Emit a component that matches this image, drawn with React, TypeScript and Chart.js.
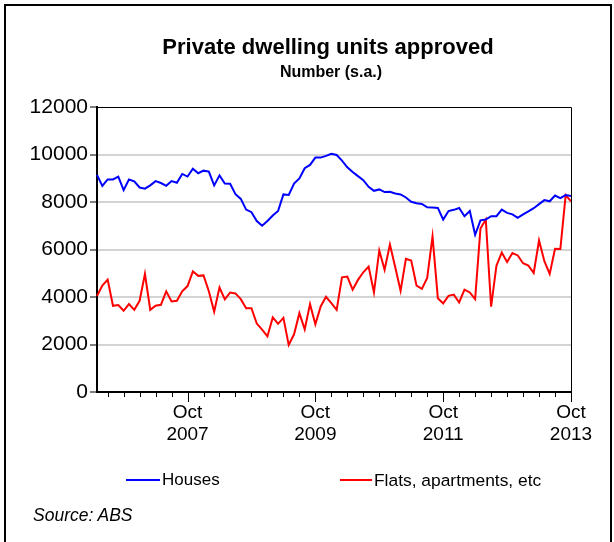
import React, { useEffect, useRef } from 'react';
import { Chart, registerables } from 'chart.js';

Chart.register(...registerables);

// Monthly series, May 2006 .. Oct 2013
const START_YEAR = 2006;
const START_MONTH = 4; // May (0-based)
const MONTHS = ['Jan', 'Feb', 'Mar', 'Apr', 'May', 'Jun', 'Jul', 'Aug', 'Sep', 'Oct', 'Nov', 'Dec'];

const houses = [
  9140, 8680, 8950, 8950, 9070, 8500, 8950, 8870, 8610, 8560,
  8700, 8880, 8800, 8680, 8880, 8810, 9180, 9070, 9400, 9210,
  9320, 9280, 8700, 9120, 8780, 8770, 8330, 8130, 7680, 7570,
  7200, 7000, 7200, 7430, 7620, 8320, 8300, 8780, 8990, 9420,
  9560, 9870, 9870, 9940, 10030, 9980, 9740, 9460, 9260, 9090,
  8920, 8640, 8470, 8530, 8420, 8430, 8360, 8320, 8190, 8010,
  7950, 7920, 7780, 7770, 7750, 7260, 7620, 7670, 7750, 7400,
  7620, 6620, 7230, 7260, 7400, 7400, 7680, 7540, 7480, 7330,
  7480, 7610, 7740, 7910, 8080, 8030, 8270, 8160, 8290, 8250,
];

const flats = [
  4040, 4480, 4730, 3630, 3660, 3420, 3700, 3460, 3840, 4970,
  3460, 3630, 3670, 4240, 3810, 3840, 4240, 4460, 5080, 4890,
  4910, 4240, 3380, 4400, 3900, 4190, 4150, 3910, 3530, 3530,
  2880, 2630, 2340, 3140, 2870, 3120, 1980, 2430, 3320, 2640,
  3700, 2850, 3600, 4010, 3740, 3460, 4830, 4860, 4310, 4720,
  5040, 5280, 4190, 5960, 5150, 6210, 5250, 4260, 5610, 5540,
  4480, 4340, 4800, 6550, 3950, 3730, 4050, 4100, 3770, 4310,
  4190, 3910, 6880, 7260, 3590, 5320, 5870, 5470, 5850, 5750,
  5420, 5320, 5010, 6380, 5510, 4970, 6030, 6020, 8290, 8030,
];

const yMin = 0;
const yMax = 12000;
const yStep = 2000;
const majorTickLabels = ['Oct 2007', 'Oct 2009', 'Oct 2011', 'Oct 2013'];

const categories: string[] = houses.map((_, i) => {
  const m = START_MONTH + i;
  return MONTHS[m % 12] + ' ' + (START_YEAR + Math.floor(m / 12));
});

const FONT = '"Liberation Sans", Arial, Helvetica, sans-serif';

export default function App() {
  const ref = useRef<HTMLCanvasElement | null>(null);

  useEffect(() => {
    if (!ref.current) return;
    const isQuarter = (i: number) => ['Jan', 'Apr', 'Jul', 'Oct'].includes(categories[i].split(' ')[0]);
    const isMajor = (i: number) => majorTickLabels.includes(categories[i]);

    const framePlugin = {
      id: 'frame',
      afterDraw(chart: any) {
        const { ctx, chartArea: a, scales } = chart;
        ctx.save();
        ctx.strokeStyle = '#000';
        ctx.lineWidth = 1;
        ctx.beginPath();
        ctx.moveTo(a.left, Math.round(a.top) + 0.5);
        ctx.lineTo(Math.round(a.right) + 0.5, Math.round(a.top) + 0.5);
        ctx.lineTo(Math.round(a.right) + 0.5, a.bottom);
        ctx.stroke();
        const xs = scales.x;
        xs.ticks.forEach((t: any, i: number) => {
          const x = Math.round(xs.getPixelForTick(i)) + 0.5;
          const len = isMajor(t.value) ? 10 : 5;
          ctx.beginPath();
          ctx.moveTo(x, a.bottom);
          ctx.lineTo(x, a.bottom + len);
          ctx.stroke();
        });
        ctx.restore();
      },
    };

    const chart = new Chart(ref.current, {
      type: 'line',
      data: {
        labels: categories,
        datasets: [
          { label: 'Houses', data: houses, borderColor: '#0000ff', borderWidth: 2, pointRadius: 0, tension: 0 },
          { label: 'Flats, apartments, etc', data: flats, borderColor: '#ff0000', borderWidth: 2, pointRadius: 0, tension: 0 },
        ],
      },
      options: {
        animation: false,
        responsive: false,
        events: [],
        layout: { padding: { left: 0, top: 107, right: 43, bottom: 80 } },
        plugins: { legend: { display: false }, tooltip: { enabled: false }, title: { display: false } },
        scales: {
          x: {
            type: 'category',
            offset: false,
            grid: { display: false, drawTicks: false },
            border: { display: true, color: '#000', width: 2 },
            afterBuildTicks: (s: any) => {
              s.ticks = s.ticks.filter((t: any) => isQuarter(t.value));
            },
            afterFit: (s: any) => {
              s.height = 70;
            },
            ticks: {
              autoSkip: false,
              maxRotation: 0,
              minRotation: 0,
              padding: 10,
              color: '#000',
              font: { family: FONT, size: 19, lineHeight: 1.15 },
              callback: (v: any) => (isMajor(v) ? categories[v].split(' ') : ''),
            },
          },
          y: {
            min: yMin,
            max: yMax,
            afterFit: (s: any) => {
              s.width = 97;
            },
            grid: {
              color: (c: any) => (c.tick && (c.tick.value === yMin || c.tick.value === yMax) ? 'rgba(0,0,0,0)' : '#d4d4d4'),
              lineWidth: 2,
              tickColor: '#000',
              tickLength: 7,
              tickWidth: 1,
            },
            border: { display: true, color: '#000', width: 2 },
            ticks: {
              stepSize: yStep,
              padding: 2,
              color: '#000',
              font: { family: FONT, size: 21 },
              callback: (v: any) => String(v),
            },
          },
        },
      },
      plugins: [framePlugin],
    });
    return () => chart.destroy();
  }, []);

  const text: React.CSSProperties = { position: 'absolute', fontFamily: FONT, color: '#000', whiteSpace: 'nowrap' };

  return (
    <div style={{ position: 'fixed', left: 0, top: 0, width: 614, height: 542, background: '#fff', overflow: 'hidden' }}>
      <div style={{ position: 'absolute', left: 4, top: 4, width: 604, height: 600, border: '2px solid #000' }} />
      <canvas ref={ref} width={614} height={542} style={{ position: 'absolute', left: 0, top: 0, width: 614, height: 542 }} />
      <div style={{ ...text, left: 328, top: 34, transform: 'translateX(-50%)', fontSize: 22, fontWeight: 'bold', lineHeight: '26px' }}>
        Private dwelling units approved
      </div>
      <div style={{ ...text, left: 331, top: 62, transform: 'translateX(-50%)', fontSize: 16, fontWeight: 'bold', lineHeight: '19px' }}>
        Number (s.a.)
      </div>
      <div style={{ position: 'absolute', left: 126, top: 479, width: 34, height: 2, background: '#0000ff' }} />
      <div style={{ ...text, left: 162, top: 470, fontSize: 17, lineHeight: '20px' }}>Houses</div>
      <div style={{ position: 'absolute', left: 340, top: 479, width: 32, height: 2, background: '#ff0000' }} />
      <div style={{ ...text, left: 374, top: 470, fontSize: 17.4, lineHeight: '20px' }}>Flats, apartments, etc</div>
      <div style={{ ...text, left: 33, top: 505, fontSize: 17.5, fontStyle: 'italic', lineHeight: '20px' }}>Source: ABS</div>
    </div>
  );
}
